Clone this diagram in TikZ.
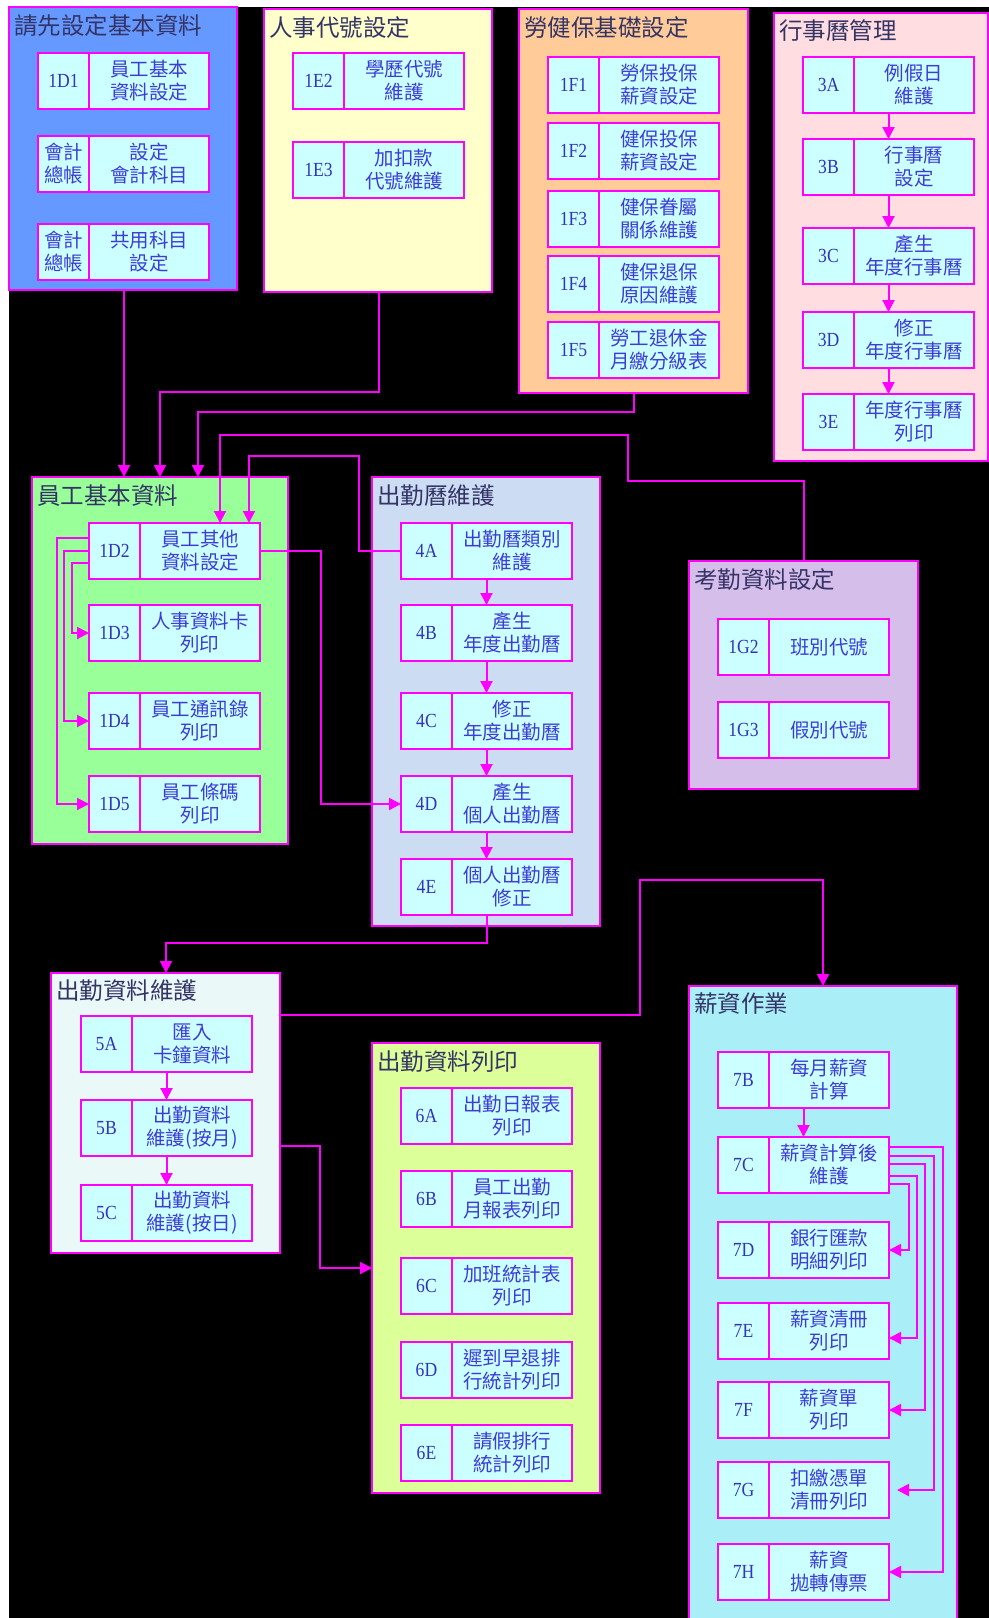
\documentclass[tikz,border=0pt]{standalone}
\usepackage{fontspec}
\setmainfont{Liberation Serif}
\newfontfamily\cjk{Noto Sans CJK TC}
\newfontfamily\codefont[FakeStretch=0.88]{Liberation Serif}
\usetikzlibrary{arrows.meta,fit,calc}
\definecolor{mag}{HTML}{FF00FF}
\definecolor{gA}{HTML}{6699FF}
\definecolor{gB}{HTML}{FFFFCC}
\definecolor{gC}{HTML}{FFCC99}
\definecolor{gD}{HTML}{FFDDE0}
\definecolor{gE}{HTML}{99FF99}
\definecolor{gF}{HTML}{CCDDF3}
\definecolor{gG}{HTML}{D6BEEA}
\definecolor{gH}{HTML}{EAF8F8}
\definecolor{gI}{HTML}{DDFF99}
\definecolor{gJ}{HTML}{AAEEF8}
\definecolor{boxfill}{HTML}{CCFFFF}
\definecolor{titcol}{HTML}{333366}
\definecolor{txtcol}{HTML}{3D3DD5}
\definecolor{codecol}{HTML}{3333BB}
\tikzset{
  codecell/.style={draw=mag, line width=1.2pt, fill=boxfill, minimum width=25.5pt, minimum height=28pt, inner sep=0pt, outer sep=0pt, text=codecol, font=\codefont\fontsize{10}{12}\selectfont, align=center},
  cjkcode/.style={font=\cjk\fontsize{9.75}{11.5}\selectfont, text=txtcol},
  textcell/.style={draw=mag, line width=1.2pt, fill=boxfill, minimum width=60pt, minimum height=28pt, inner sep=0pt, outer sep=0pt, text=txtcol, font=\cjk\fontsize{9.75}{11.5}\selectfont, align=center},
  grp/.style={draw=mag, line width=1pt, inner sep=0pt, outer sep=0pt},
  gtitle/.style={anchor=west, inner sep=0pt, text=titcol, font=\cjk\fontsize{11.75}{14}\selectfont},
  arr/.style={draw=mag, line width=1pt, -{Triangle[length=6pt,width=6pt]}},
}
\newcommand\pbox[6]{%
  \node[codecell,#4] (#1c) at (#2+25.5,#3+28) {#5};
  \node[textcell, anchor=west] (#1t) at (#1c.east) {#6};
  \node[fit=(#1c)(#1t), inner sep=0pt, outer sep=0pt] (#1) {};
}
\begin{document}
\begin{tikzpicture}[x=0.5pt,y=-0.5pt]
\useasboundingbox (0,0) rectangle (989,1618);
\clip (0,0) rectangle (989,1618);
\fill[white] (0,0) rectangle (989,1618);
\fill[black] (9,7) rectangle (989,1618);

% groups
\node[grp, fill=gA, fit={(9,7) (237,290)}] (g1) {};
\node[gtitle] (g1t) at (14,26) {請先設定基本資料};
\node[grp, fill=gB, fit={(264,9) (492,292)}] (g2) {};
\node[gtitle] (g2t) at (269,28) {人事代號設定};
\node[grp, fill=gC, fit={(519,9) (748,393)}] (g3) {};
\node[gtitle] (g3t) at (524,28) {勞健保基礎設定};
\node[grp, fill=gD, fit={(774,13) (988,461)}] (g4) {};
\node[gtitle] (g4t) at (779,31) {行事曆管理};
\node[grp, fill=gE, fit={(32,477) (288,844)}] (g5) {};
\node[gtitle] (g5t) at (37,496) {員工基本資料};
\node[grp, fill=gF, fit={(372,477) (600,926)}] (g6) {};
\node[gtitle] (g6t) at (377,496) {出勤曆維護};
\node[grp, fill=gG, fit={(689,561) (918,789)}] (g7) {};
\node[gtitle] (g7t) at (694,580) {考勤資料設定};
\node[grp, fill=gH, fit={(51,973) (280,1253)}] (g8) {};
\node[gtitle] (g8t) at (56,991) {出勤資料維護};
\node[grp, fill=gI, fit={(372,1043) (600,1493)}] (g9) {};
\node[gtitle] (g9t) at (377,1062) {出勤資料列印};
\node[grp, fill=gJ, fit={(689,986) (957,1640)}] (g10) {};
\node[gtitle] (g10t) at (694,1004) {薪資作業};

% boxes
\pbox{b1D1}{38}{53}{}{1D1}{員工基本\\資料設定}
\pbox{bKA}{38}{136}{cjkcode}{會計\\總帳}{設定\\會計科目}
\pbox{bKB}{38}{224}{cjkcode}{會計\\總帳}{共用科目\\設定}

\pbox{b1E2}{293}{53}{}{1E2}{學歷代號\\維護}
\pbox{b1E3}{293}{142}{}{1E3}{加扣款\\代號維護}

\pbox{b1F1}{548}{57}{}{1F1}{勞保投保\\薪資設定}
\pbox{b1F2}{548}{123}{}{1F2}{健保投保\\薪資設定}
\pbox{b1F3}{548}{191}{}{1F3}{健保眷屬\\關係維護}
\pbox{b1F4}{548}{256}{}{1F4}{健保退保\\原因維護}
\pbox{b1F5}{548}{322}{}{1F5}{勞工退休金\\月繳分級表}

\pbox{b3A}{803}{57}{}{3A}{例假日\\維護}
\pbox{b3B}{803}{139}{}{3B}{行事曆\\設定}
\pbox{b3C}{803}{228}{}{3C}{產生\\年度行事曆}
\pbox{b3D}{803}{312}{}{3D}{修正\\年度行事曆}
\pbox{b3E}{803}{394}{}{3E}{年度行事曆\\列印}

\pbox{b1D2}{89}{523}{}{1D2}{員工其他\\資料設定}
\pbox{b1D3}{89}{605}{}{1D3}{人事資料卡\\列印}
\pbox{b1D4}{89}{693}{}{1D4}{員工通訊錄\\列印}
\pbox{b1D5}{89}{776}{}{1D5}{員工條碼\\列印}

\pbox{b4A}{401}{523}{}{4A}{出勤曆類別\\維護}
\pbox{b4B}{401}{605}{}{4B}{產生\\年度出勤曆}
\pbox{b4C}{401}{693}{}{4C}{修正\\年度出勤曆}
\pbox{b4D}{401}{776}{}{4D}{產生\\個人出勤曆}
\pbox{b4E}{401}{859}{}{4E}{個人出勤曆\\修正}

\pbox{b1G2}{718}{619}{}{1G2}{班別代號}
\pbox{b1G3}{718}{702}{}{1G3}{假別代號}

\pbox{b5A}{81}{1016}{}{5A}{匯入\\卡鐘資料}
\pbox{b5B}{81}{1100}{}{5B}{出勤資料\\維護(按月)}
\pbox{b5C}{81}{1185}{}{5C}{出勤資料\\維護(按日)}

\pbox{b6A}{401}{1088}{}{6A}{出勤日報表\\列印}
\pbox{b6B}{401}{1171}{}{6B}{員工出勤\\月報表列印}
\pbox{b6C}{401}{1258}{}{6C}{加班統計表\\列印}
\pbox{b6D}{401}{1342}{}{6D}{遲到早退排\\行統計列印}
\pbox{b6E}{401}{1425}{}{6E}{請假排行\\統計列印}

\pbox{b7B}{718}{1052}{}{7B}{每月薪資\\計算}
\pbox{b7C}{718}{1137}{}{7C}{薪資計算後\\維護}
\pbox{b7D}{718}{1222}{}{7D}{銀行匯款\\明細列印}
\pbox{b7E}{718}{1303}{}{7E}{薪資清冊\\列印}
\pbox{b7F}{718}{1382}{}{7F}{薪資單\\列印}
\pbox{b7G}{718}{1462}{}{7G}{扣繳憑單\\清冊列印}
\pbox{b7H}{718}{1544}{}{7H}{薪資\\拋轉傳票}

% connectors, top
\draw[arr] (124,0 |- g1.south) -- (124,0 |- g5.north);
\draw[arr] (379,0 |- g2.south) |- (160,392) -- (160,0 |- g5.north);
\draw[arr] (634,0 |- g3.south) |- (198,412) -- (198,0 |- g5.north);
\draw[arr] (804,0 |- g7.north) |- (628,481) |- (220,435) -- (220,0 |- b1D2.north);
\draw[arr] (b4A.west) -| (359,456) -| (249,0 |- b1D2.north);

% inside 員工基本資料
\draw[arr] ($(b1D2.west)+(0,-13)$) -| (56.5,0 |- b1D5.west) -- (b1D5.west);
\draw[arr] (b1D2.west) -| (64,0 |- b1D4.west) -- (b1D4.west);
\draw[arr] ($(b1D2.west)+(0,12)$) -| (72,0 |- b1D3.west) -- (b1D3.west);
\draw[arr] (b1D2.east) -| (321,0 |- b4D.west) -- (b4D.west);

% chains
\draw[arr] (b3A) -- (b3B);
\draw[arr] (b3B) -- (b3C);
\draw[arr] (b3C) -- (b3D);
\draw[arr] (b3D) -- (b3E);
\draw[arr] (b4A) -- (b4B);
\draw[arr] (b4B) -- (b4C);
\draw[arr] (b4C) -- (b4D);
\draw[arr] (b4D) -- (b4E);
\draw[arr] (b5A) -- (b5B);
\draw[arr] (b5B) -- (b5C);
\draw[arr] (b7B) -- (b7C);

% lower connectors
\draw[arr] (b4E.south) |- (166,943) -- (166,0 |- g8.north);
\draw[arr] (g8.east |- 0,1015) -| (640,880) -| (823,0 |- g10.north);
\draw[arr] (g8.east |- 0,1146) -| (320,0 |- g9.west) -- (g9.west);

% 7C fan-out
\draw[arr] ($(b7C.east)+(0,19)$) -| (909,0 |- b7D.east) -- (b7D.east);
\draw[arr] ($(b7C.east)+(0,11)$) -| (917,1338) -- ($(b7E.east)+(0,7)$);
\draw[arr] ($(b7C.east)+(0,-1)$) -| (925,0 |- b7F.east) -- (b7F.east);
\draw[arr, shorten >=4pt] ($(b7C.east)+(0,-9)$) -| (934,0 |- b7G.east) -- (b7G.east);
\draw[arr] ($(b7C.east)+(0,-18)$) -| (943,0 |- b7H.east) -- (b7H.east);
\end{tikzpicture}
\end{document}
